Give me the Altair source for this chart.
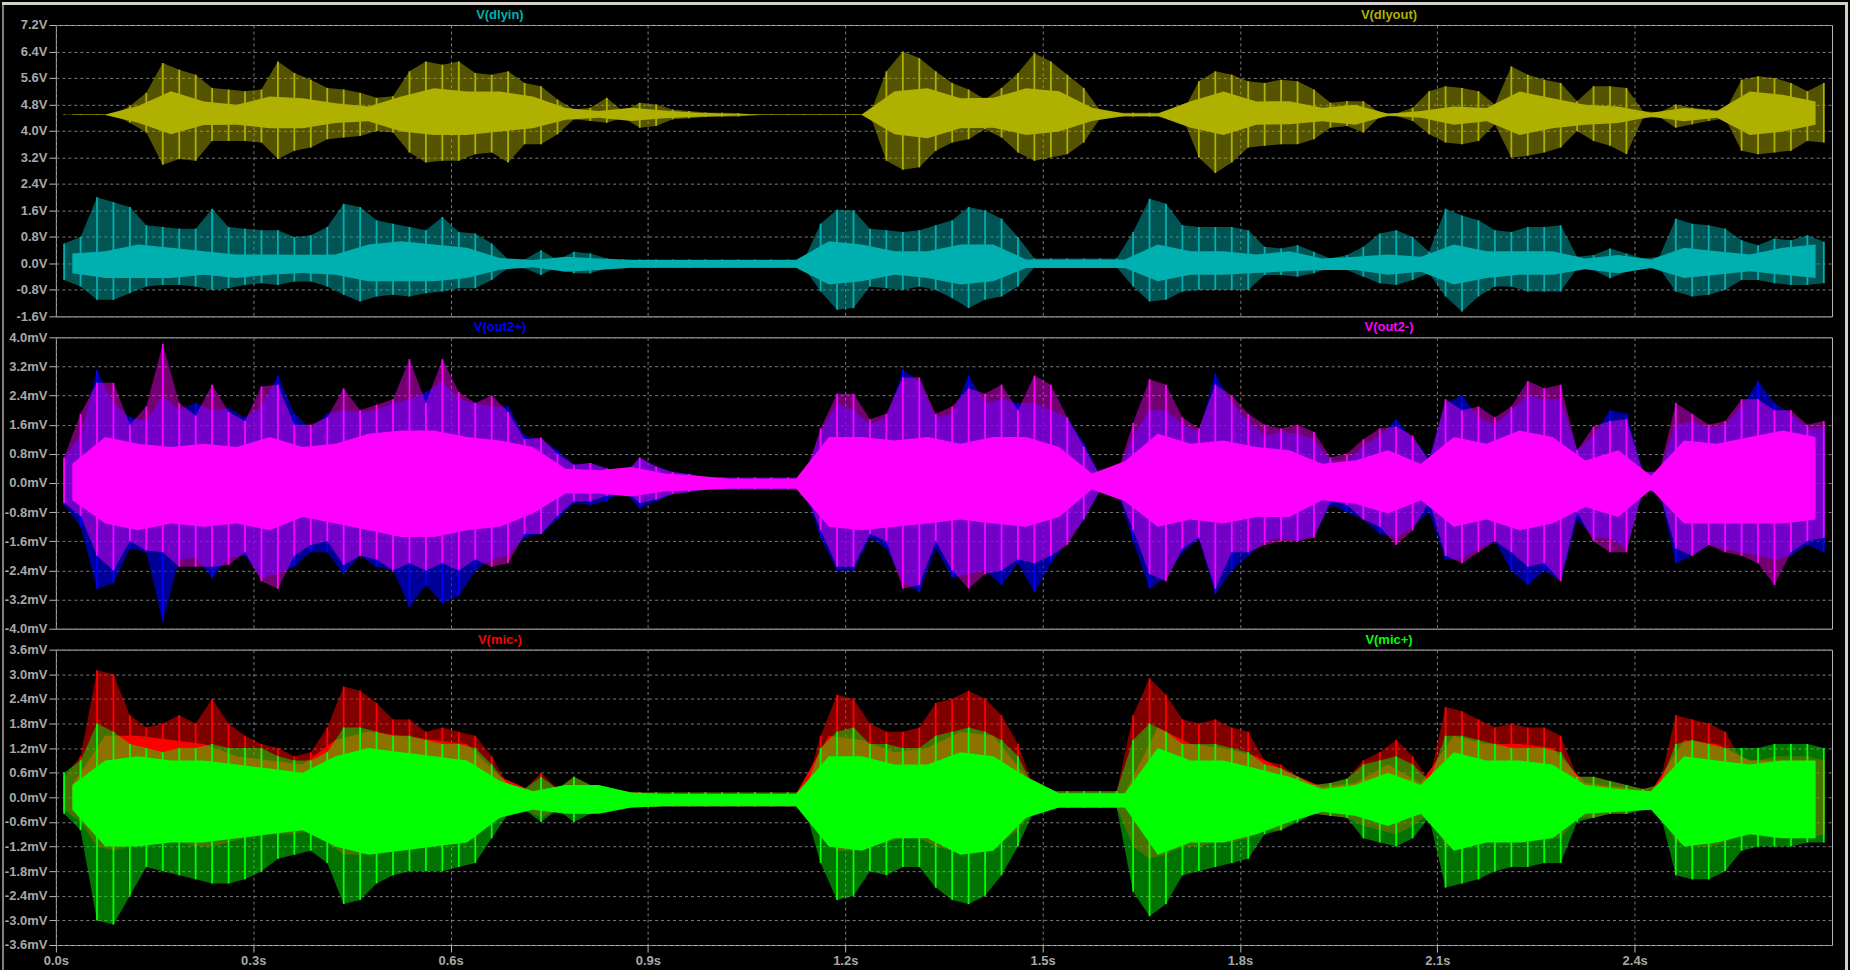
import altair as alt
import pandas as pd

# ---------------- data ----------------
# outer envelope (spike extremes) of every trace in 25 ms bins
BIN = 0.025
N_BINS = 108
T = [round(BIN * i + BIN / 2, 4) for i in range(N_BINS)]
# dense core of every trace in 50 ms bins
CBIN = 0.05
N_CBINS = 54
TC = [round(CBIN * j + CBIN / 2, 4) for j in range(N_CBINS)]

DLYOUT_HI = [
    4.50, 4.50, 4.50, 4.50, 4.75, 5.15, 6.05, 5.85, 5.70, 5.30,
    5.25, 5.20, 5.25, 6.10, 5.75, 5.55, 5.30, 5.25, 5.15, 5.00,
    5.05, 5.80, 6.10, 6.00, 6.10, 5.75, 5.70, 5.80, 5.45, 5.35,
    4.95, 4.65, 4.70, 5.00, 4.58, 4.85, 4.80, 4.65, 4.60, 4.56,
    4.55, 4.54, 4.50, 4.50, 4.50, 4.50, 4.50, 4.50, 4.50, 4.50,
    5.80, 6.40, 6.20, 5.80, 5.45, 5.25, 4.95, 5.30, 5.75, 6.35,
    6.10, 5.70, 5.30, 4.62, 4.55, 4.55, 4.55, 4.55, 4.55, 5.50,
    5.80, 5.70, 5.50, 5.45, 5.55, 5.50, 5.25, 4.85, 4.90, 4.90,
    4.55, 4.53, 4.70, 5.20, 5.35, 5.30, 5.20, 4.80, 5.95, 5.70,
    5.55, 5.45, 4.90, 5.35, 5.35, 5.30, 4.60, 4.56, 4.80, 4.70,
    4.65, 4.60, 5.55, 5.65, 5.60, 5.45, 5.20, 5.45]
DLYOUT_LO = [
    4.48, 4.48, 4.48, 4.48, 4.25, 3.95, 2.98, 3.15, 3.10, 3.70,
    3.70, 3.70, 3.65, 3.15, 3.40, 3.50, 3.75, 3.80, 3.85, 4.00,
    3.95, 3.35, 3.05, 3.10, 3.10, 3.30, 3.35, 3.05, 3.60, 3.60,
    3.90, 4.35, 4.30, 4.25, 4.40, 4.10, 4.15, 4.35, 4.38, 4.42,
    4.43, 4.44, 4.48, 4.48, 4.48, 4.48, 4.48, 4.48, 4.48, 4.48,
    3.10, 2.83, 2.90, 3.40, 3.65, 3.75, 4.05, 3.80, 3.35, 3.10,
    3.20, 3.30, 3.65, 4.38, 4.43, 4.43, 4.43, 4.43, 4.43, 3.20,
    2.73, 3.05, 3.50, 3.55, 3.60, 3.60, 3.75, 4.10, 4.15, 3.95,
    4.43, 4.45, 4.30, 3.90, 3.65, 3.60, 3.70, 4.20, 3.20, 3.25,
    3.35, 3.50, 4.00, 3.70, 3.55, 3.30, 4.38, 4.42, 4.10, 4.20,
    4.30, 4.38, 3.40, 3.30, 3.35, 3.40, 3.70, 3.65]
DLYOUT_CORE_HI = [
    4.50, 4.50, 4.75, 5.20, 4.89, 4.79, 5.04, 4.99, 4.84, 4.74,
    5.04, 5.29, 5.19, 5.19, 5.04, 4.69, 4.60, 4.70, 4.62, 4.55,
    4.52, 4.50, 4.50, 4.50, 4.50, 5.20, 5.29, 4.99, 5.00, 5.29,
    5.20, 4.70, 4.53, 4.53, 4.90, 5.19, 4.89, 4.90, 4.70, 4.79,
    4.52, 4.60, 4.74, 4.69, 5.19, 4.99, 4.79, 4.74, 4.55, 4.69,
    4.60, 5.19, 5.09, 4.89]
DLYOUT_CORE_LO = [
    4.48, 4.48, 4.25, 3.90, 4.18, 4.19, 4.08, 4.08, 4.24, 4.29,
    3.98, 3.88, 3.88, 3.98, 4.08, 4.34, 4.40, 4.30, 4.38, 4.43,
    4.46, 4.48, 4.48, 4.48, 4.48, 3.90, 3.78, 4.08, 4.10, 3.88,
    3.98, 4.30, 4.45, 4.45, 4.10, 3.88, 4.19, 4.20, 4.29, 4.19,
    4.46, 4.40, 4.19, 4.29, 3.88, 4.08, 4.19, 4.24, 4.43, 4.29,
    4.40, 3.88, 3.98, 4.19]

DLYIN_HI = [
    0.60, 0.80, 2.00, 1.85, 1.70, 1.15, 1.10, 1.05, 1.05, 1.65,
    1.10, 1.05, 1.00, 1.00, 0.80, 0.85, 1.10, 1.80, 1.70, 1.30,
    1.20, 1.10, 1.00, 1.40, 0.95, 0.90, 0.60, 0.12, 0.12, 0.40,
    0.10, 0.35, 0.30, 0.15, 0.12, 0.12, 0.12, 0.12, 0.12, 0.12,
    0.12, 0.12, 0.12, 0.12, 0.12, 0.12, 1.20, 1.62, 1.60, 1.05,
    1.00, 0.95, 1.00, 1.15, 1.30, 1.70, 1.60, 1.35, 0.80, 0.15,
    0.15, 0.15, 0.15, 0.15, 0.15, 0.95, 1.95, 1.80, 1.15, 1.10,
    1.10, 1.10, 1.00, 0.50, 0.45, 0.55, 0.35, 0.15, 0.25, 0.50,
    0.90, 1.00, 0.80, 0.35, 1.65, 1.45, 1.30, 1.00, 0.95, 1.10,
    1.10, 1.15, 0.20, 0.25, 0.45, 0.30, 0.15, 0.20, 1.35, 1.20,
    1.15, 1.05, 0.70, 0.55, 0.75, 0.70, 0.85, 0.65]
DLYIN_LO = [
    -0.50, -0.70, -1.10, -1.10, -0.90, -0.70, -0.65, -0.65, -0.70, -0.80,
    -0.75, -0.65, -0.60, -0.65, -0.55, -0.55, -0.70, -0.95, -1.15, -1.00,
    -0.95, -1.00, -0.90, -0.85, -0.75, -0.75, -0.50, -0.14, -0.15, -0.35,
    -0.10, -0.30, -0.30, -0.15, -0.14, -0.14, -0.14, -0.14, -0.14, -0.14,
    -0.14, -0.14, -0.14, -0.14, -0.14, -0.14, -0.85, -1.40, -1.35, -0.70,
    -0.75, -0.80, -0.70, -0.80, -1.05, -1.35, -1.10, -1.00, -0.70, -0.12,
    -0.12, -0.12, -0.12, -0.12, -0.12, -0.70, -1.15, -1.10, -0.85, -0.80,
    -0.80, -0.80, -0.80, -0.35, -0.35, -0.40, -0.30, -0.12, -0.20, -0.40,
    -0.60, -0.65, -0.50, -0.30, -1.00, -1.45, -1.00, -0.70, -0.70, -0.85,
    -0.85, -0.85, -0.15, -0.20, -0.45, -0.25, -0.12, -0.15, -0.85, -1.00,
    -0.95, -0.80, -0.50, -0.50, -0.60, -0.65, -0.65, -0.60]
DLYIN_CORE_HI = [
    0.30, 0.37, 0.57, 0.47, 0.37, 0.27, 0.27, 0.26, 0.27, 0.57,
    0.67, 0.57, 0.47, 0.16, 0.10, 0.20, 0.15, 0.10, 0.10, 0.10,
    0.10, 0.10, 0.10, 0.67, 0.57, 0.37, 0.37, 0.57, 0.57, 0.12,
    0.12, 0.12, 0.12, 0.57, 0.37, 0.37, 0.27, 0.37, 0.15, 0.20,
    0.27, 0.20, 0.57, 0.37, 0.37, 0.37, 0.15, 0.25, 0.12, 0.47,
    0.37, 0.27, 0.47, 0.57]
DLYIN_CORE_LO = [
    -0.30, -0.44, -0.44, -0.44, -0.34, -0.44, -0.34, -0.29, -0.34, -0.54,
    -0.54, -0.54, -0.44, -0.19, -0.12, -0.25, -0.20, -0.13, -0.13, -0.13,
    -0.13, -0.13, -0.13, -0.64, -0.54, -0.34, -0.44, -0.64, -0.54, -0.14,
    -0.14, -0.14, -0.14, -0.54, -0.34, -0.34, -0.29, -0.24, -0.20, -0.20,
    -0.34, -0.25, -0.64, -0.44, -0.34, -0.34, -0.18, -0.30, -0.14, -0.44,
    -0.34, -0.24, -0.34, -0.44]

OUT2P_HI = [
    0.70, 1.30, 3.10, 2.20, 1.80, 1.70, 2.40, 2.00, 2.20, 2.00,
    2.05, 1.80, 2.10, 2.95, 1.90, 1.50, 1.90, 2.00, 1.95, 2.00,
    2.20, 2.30, 2.50, 2.80, 2.30, 2.20, 2.10, 2.10, 1.30, 1.20,
    0.90, 0.50, 0.55, 0.40, 0.20, 0.70, 0.45, 0.30, 0.25, 0.15,
    0.15, 0.15, 0.15, 0.15, 0.15, 0.15, 1.40, 2.20, 2.00, 1.60,
    1.80, 3.10, 2.80, 1.80, 1.90, 2.95, 2.20, 2.30, 2.20, 2.20,
    2.00, 1.80, 1.10, 0.20, 0.22, 1.30, 2.00, 2.00, 1.60, 1.40,
    3.00, 2.20, 1.70, 1.30, 1.40, 1.35, 1.20, 0.60, 0.60, 1.00,
    1.30, 1.75, 1.20, 0.70, 2.20, 2.40, 1.80, 1.60, 2.00, 2.40,
    2.30, 2.30, 0.90, 1.30, 2.00, 1.90, 0.30, 0.30, 1.60, 1.70,
    1.50, 1.60, 2.10, 2.80, 2.20, 1.90, 1.50, 1.50]
OUT2P_LO = [
    -0.60, -1.20, -2.90, -2.75, -1.80, -1.90, -3.80, -2.10, -2.05, -2.60,
    -2.05, -2.00, -2.60, -2.50, -2.30, -1.90, -1.90, -2.50, -2.00, -2.30,
    -2.40, -3.40, -2.80, -3.30, -3.10, -2.40, -2.10, -2.00, -1.50, -1.40,
    -1.00, -0.55, -0.60, -0.50, -0.20, -0.70, -0.50, -0.30, -0.25, -0.18,
    -0.18, -0.18, -0.18, -0.18, -0.18, -0.18, -1.50, -2.40, -2.40, -1.50,
    -1.80, -2.70, -3.00, -1.80, -2.60, -2.50, -2.40, -2.80, -2.20, -3.00,
    -2.20, -1.60, -1.00, -0.20, -0.15, -1.60, -2.90, -2.60, -1.90, -1.55,
    -3.05, -2.40, -2.00, -1.60, -1.50, -1.60, -1.45, -0.60, -0.80, -1.00,
    -1.40, -1.50, -1.20, -0.80, -2.10, -2.10, -1.80, -1.60, -2.40, -2.80,
    -2.40, -2.70, -1.00, -1.50, -1.50, -1.80, -0.20, -0.25, -2.20, -2.00,
    -1.70, -1.80, -1.90, -2.00, -2.10, -2.00, -1.70, -1.90]

OUT2M_HI = [
    0.70, 1.90, 2.75, 2.75, 1.60, 2.10, 3.82, 2.20, 1.85, 2.70,
    1.95, 1.70, 2.65, 2.70, 1.60, 1.60, 1.80, 2.60, 2.00, 2.15,
    2.30, 3.40, 2.20, 3.40, 2.50, 2.20, 2.40, 1.95, 1.20, 1.25,
    0.80, 0.50, 0.55, 0.40, 0.20, 0.70, 0.45, 0.30, 0.25, 0.15,
    0.15, 0.15, 0.15, 0.15, 0.15, 0.15, 1.50, 2.45, 2.45, 1.75,
    1.90, 2.90, 2.90, 1.90, 2.10, 2.60, 2.45, 2.70, 2.00, 2.95,
    2.70, 1.80, 1.00, 0.20, 0.22, 1.65, 2.85, 2.70, 1.80, 1.50,
    2.70, 2.40, 1.90, 1.60, 1.50, 1.60, 1.40, 0.70, 0.80, 1.20,
    1.50, 1.55, 1.30, 0.60, 2.30, 2.00, 2.10, 1.80, 2.10, 2.80,
    2.60, 2.70, 0.90, 1.55, 1.70, 1.75, 0.30, 0.30, 2.20, 1.90,
    1.60, 1.70, 2.30, 2.30, 2.00, 2.00, 1.60, 1.70]
OUT2M_LO = [
    -0.55, -0.90, -2.00, -2.40, -1.60, -1.85, -1.90, -2.30, -2.30, -2.30,
    -2.25, -1.90, -2.70, -2.90, -2.00, -1.70, -1.60, -2.25, -2.00, -2.10,
    -2.40, -2.20, -2.40, -2.20, -2.40, -2.10, -2.30, -2.20, -1.40, -1.40,
    -0.90, -0.50, -0.50, -0.35, -0.15, -0.55, -0.45, -0.30, -0.25, -0.17,
    -0.17, -0.17, -0.17, -0.17, -0.17, -0.17, -1.30, -2.30, -2.30, -1.40,
    -1.60, -2.90, -2.80, -1.60, -2.40, -2.90, -2.50, -2.40, -2.10, -2.20,
    -2.00, -1.70, -1.00, -0.20, -0.15, -1.30, -2.50, -2.70, -1.80, -1.50,
    -2.90, -1.90, -1.90, -1.70, -1.60, -1.60, -1.50, -0.50, -0.60, -1.00,
    -1.20, -1.70, -1.30, -0.50, -2.00, -2.20, -1.90, -1.60, -1.90, -2.30,
    -2.20, -2.70, -0.80, -1.60, -1.90, -1.90, -0.20, -0.25, -1.80, -2.00,
    -1.70, -1.90, -2.00, -2.20, -2.80, -1.90, -1.60, -1.50]
OUT2M_CORE_HI = [
    0.53, 1.26, 1.08, 0.99, 1.08, 0.99, 1.26, 0.99, 1.08, 1.35,
    1.44, 1.44, 1.26, 1.17, 0.99, 0.39, 0.35, 0.44, 0.26, 0.20,
    0.12, 0.12, 0.12, 1.26, 1.26, 1.17, 1.26, 1.08, 1.26, 1.26,
    0.99, 0.26, 0.60, 1.35, 1.08, 1.17, 0.99, 0.90, 0.53, 0.62,
    0.90, 0.53, 1.26, 1.08, 1.44, 1.26, 0.62, 0.90, 0.20, 1.17,
    1.08, 1.26, 1.44, 1.26]
OUT2M_CORE_LO = [
    -0.47, -1.11, -1.30, -1.11, -1.20, -1.11, -1.30, -0.93, -1.11, -1.30,
    -1.48, -1.48, -1.30, -1.20, -0.84, -0.29, -0.29, -0.37, -0.23, -0.20,
    -0.15, -0.15, -0.15, -1.20, -1.30, -1.20, -1.11, -1.00, -1.11, -1.20,
    -0.93, -0.18, -0.50, -1.20, -1.00, -1.11, -0.93, -0.93, -0.47, -0.57,
    -0.84, -0.47, -1.20, -1.00, -1.30, -1.11, -0.66, -0.93, -0.18, -1.11,
    -1.11, -1.11, -1.11, -1.00]

MICM_HI = [
    0.50, 1.00, 3.10, 3.00, 2.00, 1.70, 1.80, 2.00, 1.80, 2.40,
    1.80, 1.50, 1.30, 1.20, 1.00, 1.10, 1.70, 2.70, 2.60, 2.30,
    1.90, 1.90, 1.60, 1.70, 1.60, 1.50, 1.00, 0.30, 0.20, 0.60,
    0.20, 0.50, 0.30, 0.20, 0.12, 0.12, 0.12, 0.12, 0.12, 0.12,
    0.12, 0.12, 0.12, 0.12, 0.12, 0.12, 1.50, 2.50, 2.40, 1.80,
    1.60, 1.60, 1.70, 2.30, 2.40, 2.60, 2.40, 2.00, 1.30, 0.20,
    0.15, 0.15, 0.15, 0.15, 0.15, 2.00, 2.90, 2.50, 1.90, 1.80,
    1.90, 1.70, 1.60, 0.90, 0.80, 0.50, 0.30, 0.35, 0.45, 0.90,
    1.10, 1.40, 1.00, 0.40, 2.20, 2.10, 1.90, 1.70, 1.80, 1.70,
    1.70, 1.50, 0.50, 0.50, 0.40, 0.30, 0.20, 0.30, 2.00, 1.90,
    1.80, 1.60, 0.90, 0.90, 1.00, 1.00, 1.00, 0.90]
MICM_LO = [
    -0.30, -0.60, -1.20, -1.30, -1.20, -1.00, -1.00, -1.10, -1.20, -1.20,
    -1.10, -1.00, -0.90, -0.90, -0.90, -0.80, -1.10, -1.40, -1.40, -1.30,
    -1.20, -1.20, -1.10, -1.10, -1.10, -1.00, -0.60, -0.40, -0.30, -0.50,
    -0.30, -0.40, -0.40, -0.30, -0.22, -0.22, -0.22, -0.22, -0.22, -0.22,
    -0.22, -0.22, -0.22, -0.22, -0.22, -0.22, -0.90, -1.30, -1.30, -1.10,
    -1.10, -1.00, -1.00, -1.20, -1.30, -1.30, -1.30, -1.10, -0.80, -0.30,
    -0.25, -0.25, -0.25, -0.25, -0.25, -1.20, -1.50, -1.40, -1.20, -1.20,
    -1.10, -1.10, -1.00, -0.80, -0.80, -0.50, -0.40, -0.45, -0.50, -0.70,
    -0.80, -0.90, -0.70, -0.40, -1.20, -1.20, -1.10, -1.10, -1.10, -1.10,
    -1.00, -1.00, -0.50, -0.50, -0.40, -0.40, -0.30, -0.30, -1.10, -1.20,
    -1.20, -1.10, -0.90, -0.90, -1.00, -1.00, -1.00, -0.90]
MICM_CORE_HI = [
    0.30, 1.50, 1.50, 1.40, 1.30, 1.00, 0.90, 0.80, 1.40, 1.60,
    1.50, 1.40, 1.30, 0.50, 0.15, 0.30, 0.25, 0.12, 0.08, 0.08,
    0.08, 0.08, 0.08, 1.50, 1.40, 1.10, 1.20, 1.60, 1.50, 0.50,
    0.10, 0.10, 0.10, 1.70, 1.30, 1.20, 1.00, 0.60, 0.25, 0.35,
    0.80, 0.35, 1.50, 1.30, 1.30, 1.20, 0.35, 0.25, 0.15, 1.40,
    1.30, 0.90, 0.90, 0.80]
MICM_CORE_LO = [
    -0.20, -0.80, -0.80, -0.70, -0.70, -0.60, -0.50, -0.50, -0.80, -0.90,
    -0.80, -0.70, -0.70, -0.40, -0.25, -0.35, -0.30, -0.25, -0.22, -0.22,
    -0.22, -0.22, -0.22, -0.80, -0.80, -0.70, -0.70, -0.90, -0.80, -0.40,
    -0.25, -0.25, -0.25, -0.90, -0.70, -0.70, -0.60, -0.50, -0.30, -0.40,
    -0.50, -0.35, -0.80, -0.70, -0.70, -0.70, -0.35, -0.30, -0.25, -0.80,
    -0.70, -0.70, -0.80, -0.80]

MICP_HI = [
    0.60, 0.90, 1.80, 1.60, 1.30, 1.20, 1.10, 1.20, 1.20, 1.30,
    1.20, 1.20, 1.20, 1.00, 0.90, 0.90, 1.10, 1.70, 1.70, 1.60,
    1.50, 1.50, 1.40, 1.30, 1.30, 1.20, 0.80, 0.30, 0.20, 0.50,
    0.20, 0.50, 0.30, 0.20, 0.12, 0.12, 0.12, 0.12, 0.12, 0.12,
    0.12, 0.12, 0.12, 0.12, 0.12, 0.12, 1.20, 1.60, 1.70, 1.30,
    1.30, 1.20, 1.20, 1.50, 1.60, 1.70, 1.60, 1.40, 1.00, 0.20,
    0.15, 0.15, 0.15, 0.15, 0.15, 1.40, 1.80, 1.60, 1.30, 1.30,
    1.30, 1.20, 1.10, 0.80, 0.70, 0.50, 0.30, 0.35, 0.45, 0.80,
    0.90, 1.00, 0.80, 0.40, 1.50, 1.50, 1.40, 1.30, 1.20, 1.20,
    1.20, 1.10, 0.50, 0.50, 0.40, 0.30, 0.20, 0.30, 1.30, 1.40,
    1.30, 1.20, 1.20, 1.20, 1.30, 1.30, 1.30, 1.20]
MICP_LO = [
    -0.40, -0.80, -3.00, -3.10, -2.40, -1.70, -1.80, -1.90, -2.00, -2.10,
    -2.10, -2.00, -1.80, -1.50, -1.40, -1.30, -1.60, -2.60, -2.50, -2.10,
    -1.90, -1.80, -1.80, -1.80, -1.70, -1.60, -1.00, -0.40, -0.30, -0.60,
    -0.30, -0.60, -0.40, -0.30, -0.22, -0.22, -0.22, -0.22, -0.22, -0.22,
    -0.22, -0.22, -0.22, -0.22, -0.22, -0.22, -1.60, -2.50, -2.40, -1.80,
    -1.90, -1.70, -1.70, -2.20, -2.50, -2.60, -2.40, -1.90, -1.20, -0.30,
    -0.25, -0.25, -0.25, -0.25, -0.25, -2.30, -2.90, -2.60, -1.90, -1.80,
    -1.70, -1.60, -1.50, -0.90, -0.80, -0.60, -0.40, -0.45, -0.50, -1.00,
    -1.10, -1.20, -1.00, -0.50, -2.20, -2.10, -2.00, -1.80, -1.70, -1.70,
    -1.60, -1.60, -0.60, -0.50, -0.40, -0.40, -0.30, -0.30, -1.90, -2.00,
    -2.00, -1.80, -1.30, -1.20, -1.20, -1.20, -1.10, -1.10]
MICP_CORE_HI = [
    0.30, 0.90, 1.00, 0.90, 0.90, 0.80, 0.70, 0.60, 1.00, 1.20,
    1.10, 1.00, 0.90, 0.40, 0.15, 0.30, 0.30, 0.12, 0.08, 0.08,
    0.08, 0.08, 0.08, 1.00, 1.00, 0.80, 0.80, 1.10, 1.00, 0.50,
    0.10, 0.10, 0.10, 1.20, 0.90, 0.90, 0.70, 0.50, 0.20, 0.30,
    0.60, 0.30, 1.10, 0.90, 0.90, 0.80, 0.30, 0.20, 0.15, 1.00,
    0.90, 0.80, 0.90, 0.90]
MICP_CORE_LO = [
    -0.30, -1.20, -1.20, -1.10, -1.10, -1.00, -0.90, -0.80, -1.20, -1.40,
    -1.30, -1.20, -1.10, -0.50, -0.30, -0.40, -0.40, -0.25, -0.22, -0.22,
    -0.22, -0.22, -0.22, -1.20, -1.30, -1.00, -1.00, -1.40, -1.30, -0.50,
    -0.25, -0.25, -0.25, -1.40, -1.10, -1.10, -0.90, -0.60, -0.35, -0.45,
    -0.70, -0.40, -1.30, -1.10, -1.10, -1.00, -0.40, -0.35, -0.30, -1.20,
    -1.10, -0.90, -1.00, -1.00]

X_TICKS = [0.0, 0.3, 0.6, 0.9, 1.2, 1.5, 1.8, 2.1, 2.4]
TOP_TICKS = [-1.6, -0.8, 0.0, 0.8, 1.6, 2.4, 3.2, 4.0, 4.8, 5.6, 6.4, 7.2]
MID_TICKS = [-4.0, -3.2, -2.4, -1.6, -0.8, 0.0, 0.8, 1.6, 2.4, 3.2, 4.0]
BOT_TICKS = [-3.6, -3.0, -2.4, -1.8, -1.2, -0.6, 0.0, 0.6, 1.2, 1.8, 2.4, 3.0, 3.6]

# ---------------- styling ----------------
BG = "#000000"
AXIS_TXT = "#A8A8A8"
GRID = "#7C7C7C"
FRAME = "#B8B8B8"
FONT = "Liberation Sans"
W = 1780

C_DLYIN = "#00B0B0"
C_DLYOUT = "#B0B000"
C_OUT2P = "#0000FF"
C_OUT2M = "#FF00FF"
C_MICM = "#FF0000"
C_MICP = "#00FF00"

xscale = alt.Scale(domain=[0, 2.7], nice=False, zero=False)


def label_expr(unit):
    return ("(datum.value < -0.0001 ? '-' : '') + format(abs(datum.value), '.1f') + '%s'" % unit)


def panel(traces, domain, ticks, unit, height, titles, show_x, extra=()):
    yscale = alt.Scale(domain=domain, nice=False, zero=False)
    yaxis = alt.Axis(values=ticks, labelExpr=label_expr(unit), title=None, grid=True,
                     gridColor=GRID, gridDash=[3, 3], gridWidth=1, domain=False,
                     ticks=True, tickColor=FRAME, tickSize=7, tickWidth=1,
                     labelColor=AXIS_TXT, labelFont=FONT, labelFontSize=13,
                     labelFontWeight="bold", labelPadding=2, labelOverlap=False,
                     labelFlush=False, labelBound=False)
    xaxis = alt.Axis(values=X_TICKS, title=None, grid=True, gridColor=GRID, gridDash=[3, 3],
                     gridWidth=1, domain=False, ticks=show_x, labels=show_x,
                     tickColor=FRAME, tickSize=7, tickWidth=1,
                     labelExpr="format(datum.value, '.1f') + 's'",
                     labelColor=AXIS_TXT, labelFont=FONT, labelFontSize=13,
                     labelFontWeight="bold", labelPadding=3, labelOverlap=False,
                     labelFlush=False)
    X = alt.X("t:Q", scale=xscale, axis=xaxis)
    layers = []
    for name, hi, lo, chi, clo, color, env_op in traces:
        env = alt.Chart(pd.DataFrame({"t": T, "lo": lo, "hi": hi, "name": name}))
        # fill of the whole spike envelope (spikes with black gaps between them)
        layers.append(env.mark_area(color=color, opacity=env_op).encode(
            x=X, y=alt.Y("lo:Q", scale=yscale, axis=yaxis), y2="hi:Q"))
        # one full-height spike per bin
        layers.append(env.mark_rule(color=color, strokeWidth=1.8).encode(
            x=X, y=alt.Y("lo:Q", scale=yscale, axis=yaxis), y2="hi:Q"))
        if chi is not None:
            core = alt.Chart(pd.DataFrame({"t": TC, "lo": clo, "hi": chi, "name": name}))
            layers.append(core.mark_area(color=color, opacity=1).encode(
                x=X, y=alt.Y("lo:Q", scale=yscale, axis=yaxis), y2="hi:Q"))
    for text, color, xpx in titles:
        layers.append(
            alt.Chart(pd.DataFrame({"label": [text]}))
            .mark_text(font=FONT, fontSize=13, fontWeight="bold", color=color, align="center",
                       baseline="middle")
            .encode(text="label:N", x=alt.value(xpx), y=alt.value(-10))
        )
    layers.extend(extra)
    return alt.layer(*layers).properties(width=W, height=height)


# window frame pieces (drawn from the top panel, outside its plot area)
blank = pd.DataFrame({"k": [0]})
frame_top = alt.Chart(blank).mark_rule(color="#D4D0C8", strokeWidth=3).encode(
    x=alt.value(-54), x2=alt.value(1796), y=alt.value(-21.5))
frame_left = alt.Chart(blank).mark_rule(color="#808080", strokeWidth=2).encode(
    x=alt.value(-53), y=alt.value(-20), y2=alt.value(947))
frame_right = alt.Chart(blank).mark_rule(color="#D4D0C8", strokeWidth=3).encode(
    x=alt.value(1794.5), y=alt.value(-20), y2=alt.value(947))

top = panel(
    [("V(dlyout)", DLYOUT_HI, DLYOUT_LO, DLYOUT_CORE_HI, DLYOUT_CORE_LO, C_DLYOUT, 0.48),
     ("V(dlyin)", DLYIN_HI, DLYIN_LO, DLYIN_CORE_HI, DLYIN_CORE_LO, C_DLYIN, 0.48)],
    [-1.6, 7.2], TOP_TICKS, "V", 292,
    [("V(dlyin)", C_DLYIN, 445), ("V(dlyout)", C_DLYOUT, 1336)], False,
    extra=(frame_top, frame_left, frame_right))

mid = panel(
    [("V(out2+)", OUT2P_HI, OUT2P_LO, None, None, C_OUT2P, 0.6),
     ("V(out2-)", OUT2M_HI, OUT2M_LO, OUT2M_CORE_HI, OUT2M_CORE_LO, C_OUT2M, 0.45)],
    [-4.0, 4.0], MID_TICKS, "mV", 292,
    [("V(out2+)", C_OUT2P, 445), ("V(out2-)", C_OUT2M, 1336)], False)

bot = panel(
    [("V(mic-)", MICM_HI, MICM_LO, MICM_CORE_HI, MICM_CORE_LO, C_MICM, 0.5),
     ("V(mic+)", MICP_HI, MICP_LO, MICP_CORE_HI, MICP_CORE_LO, C_MICP, 0.45)],
    [-3.6, 3.6], BOT_TICKS, "mV", 296,
    [("V(mic-)", C_MICM, 445), ("V(mic+)", C_MICP, 1336)], True)

chart = (
    alt.vconcat(top, mid, bot, spacing=21, bounds="flush")
    .properties(padding=0, background=BG)
    .configure_view(stroke=FRAME, strokeWidth=1, fill=BG)
    .configure_axis(labelOverlap=False, labelFlush=False)
)

chart.save("out.html", embed_options={"renderer": "svg", "actions": False})
